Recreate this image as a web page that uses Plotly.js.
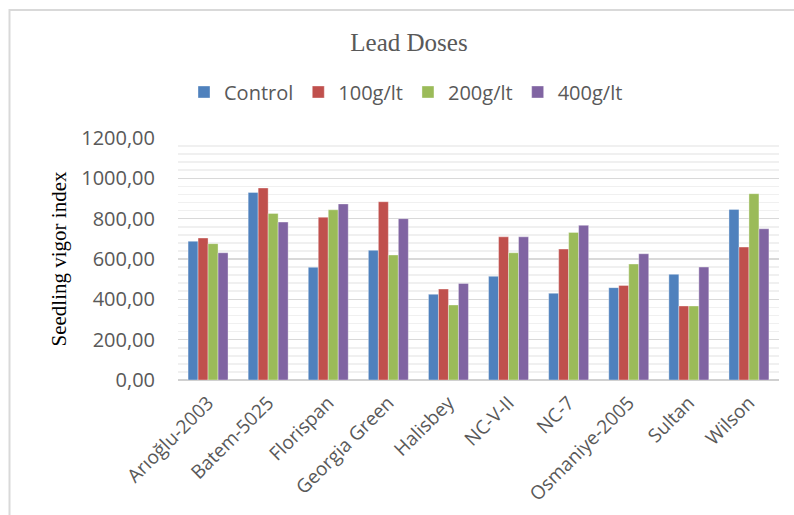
<!DOCTYPE html>
<html>
<head>
<meta charset="utf-8">
<script src="https://cdn.plot.ly/plotly-3.0.1.min.js"></script>
<style>
  html, body { margin: 0; padding: 0; background: #ffffff; }
  #chart { width: 794px; height: 515px; }
</style>
</head>
<body>
<div id="chart"></div>
<script>
// Seedling vigor index of pepper cultivars under lead doses
const cultivars = ['Arıoğlu-2003', 'Batem-5025', 'Florispan', 'Georgia Green', 'Halisbey',
                   'NC-V-II', 'NC-7', 'Osmaniye-2005', 'Sultan', 'Wilson'];
const seriesNames = ['Control', '100g/lt', '200g/lt', '400g/lt'];
const control = [688, 930, 559, 643, 425, 514, 430, 458, 524, 846];
const dose100 = [704, 952, 807, 884, 451, 710, 649, 469, 367, 659];
const dose200 = [676, 826, 844, 620, 372, 631, 732, 575, 367, 924];
const dose400 = [631, 783, 873, 800, 479, 710, 767, 626, 560, 750];
const yTickVals = [0, 200, 400, 600, 800, 1000, 1200];
const yTickText = ['0,00', '200,00', '400,00', '600,00', '800,00', '1000,00', '1200,00'];

const colors = ['#4F81BD', '#C0504D', '#9BBB59', '#8064A2'];
const values = [control, dose100, dose200, dose400];

const traces = values.map((v, i) => ({
  type: 'bar',
  name: seriesNames[i],
  x: cultivars,
  y: v,
  marker: { color: colors[i], line: { color: 'rgba(255,255,255,0.45)', width: 0.8 } },
  hoverinfo: 'x+y+name'
}));

const axisFont = { family: '"Open Sans", sans-serif', size: 19, color: '#595959' };

const layout = {
  width: 794,
  height: 515,
  paper_bgcolor: '#ffffff',
  plot_bgcolor: '#ffffff',
  margin: { l: 178, r: 15, t: 138, b: 135 },
  title: {
    text: 'Lead Doses',
    font: { family: '"Liberation Serif", "Times New Roman", serif', size: 25, color: '#595959' },
    xref: 'container', x: 409 / 794, xanchor: 'center',
    yref: 'container', y: 1 - 42 / 515, yanchor: 'middle'
  },
  showlegend: true,
  legend: {
    orientation: 'h',
    xref: 'container', yref: 'container',
    x: 184 / 794, xanchor: 'left',
    y: 1 - 92 / 515, yanchor: 'middle',
    font: { family: '"Open Sans", sans-serif', size: 20, color: '#595959' },
    itemwidth: 30,
    traceorder: 'normal'
  },
  barmode: 'group',
  bargap: 0.335,
  bargroupgap: 0,
  xaxis: {
    type: 'category',
    tickangle: -45,
    tickfont: axisFont,
    ticklabelstandoff: 7,
    showgrid: false,
    showline: false,
    ticks: '',
    automargin: false
  },
  yaxis: {
    range: [0, 1200],
    tickvals: yTickVals,
    ticktext: yTickText,
    tickfont: { family: '"Open Sans", sans-serif', size: 20, color: '#595959' },
    ticks: '',
    ticklabelstandoff: 22,
    showgrid: true,
    gridcolor: '#d9d9d9',
    gridwidth: 1.6,
    zeroline: true,
    zerolinecolor: '#d0d0d0',
    zerolinewidth: 2,
    minor: { dtick: 40, showgrid: true, gridcolor: '#f0f0f0', gridwidth: 1.6 },
    automargin: false,
    title: {
      text: 'Seedling vigor index',
      font: { family: '"Liberation Serif", "Times New Roman", serif', size: 21, color: '#000000' },
      standoff: 8
    }
  },
  shapes: [{
    type: 'rect',
    xref: 'paper', yref: 'paper',
    x0: (9.5 - 178) / 601, x1: (805 - 178) / 601,
    y0: (380 - 530) / 242, y1: (380 - 10) / 242,
    line: { color: '#d9d9d9', width: 2 },
    fillcolor: 'rgba(0,0,0,0)',
    layer: 'below'
  }]
};

Plotly.newPlot('chart', traces, layout, { displayModeBar: false, staticPlot: true });
</script>
</body>
</html>
